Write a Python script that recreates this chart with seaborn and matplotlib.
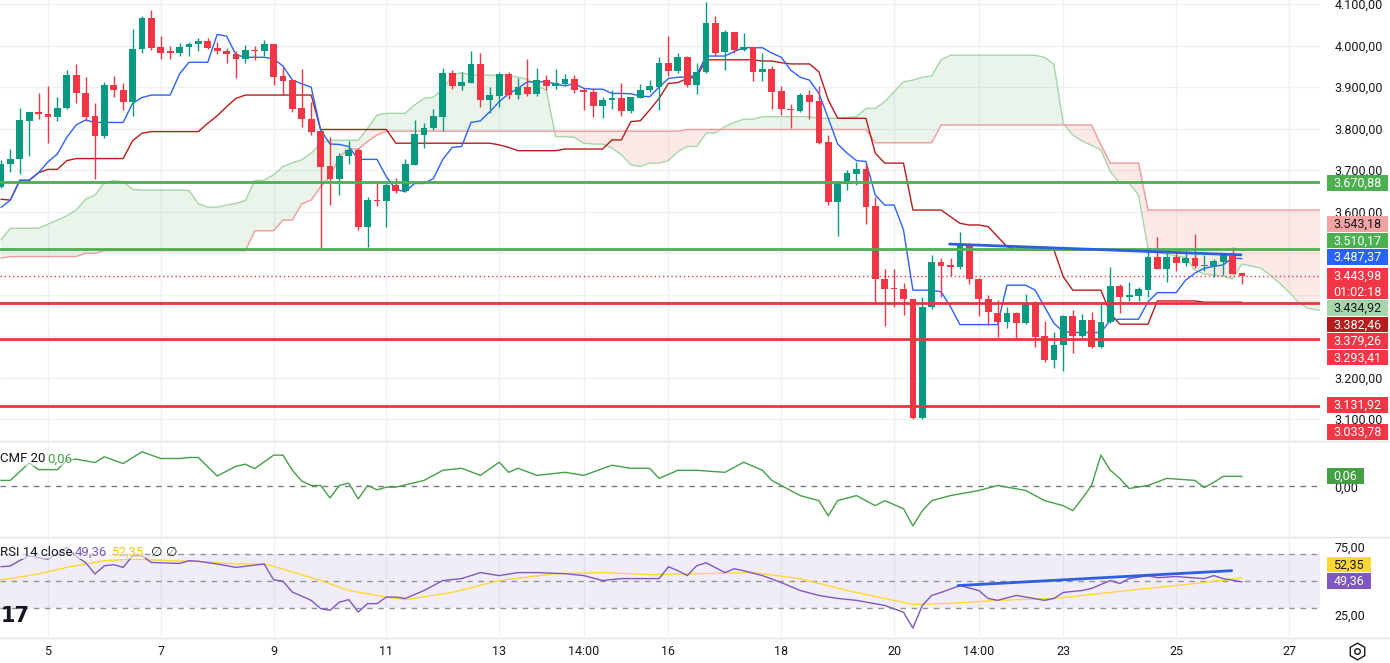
import numpy as np
import pandas as pd
import matplotlib
matplotlib.use("Agg")
import matplotlib.pyplot as plt
from matplotlib.patches import Rectangle
from matplotlib.lines import Line2D
import seaborn as sns

# --- 4h candles, bar 0 = day 4 04:00 ---
opens = [3659, 3714, 3726, 3819, 3839, 3835, 3829, 3849, 3929, 3885,
         3830, 3783, 3905, 3893, 3865, 3991, 4066, 3996, 3986, 3983,
         3996, 4003, 4011, 3994, 3988, 3980, 3968, 3990, 3988, 4004,
         3927, 3917, 3849, 3823, 3794, 3710, 3679, 3733, 3749, 3564,
         3628, 3626, 3664, 3651, 3713, 3785, 3801, 3829, 3935, 3904,
         3911, 3956, 3868, 3879, 3932, 3881, 3900, 3884, 3917, 3904,
         3908, 3919, 3893, 3888, 3855, 3868, 3874, 3843, 3875, 3892,
         3901, 3958, 3939, 3972, 3905, 3937, 4055, 3984, 4032, 3990,
         3996, 3937, 3944, 3891, 3847, 3843, 3881, 3867, 3767, 3624,
         3666, 3692, 3704, 3614, 3437, 3415, 3413, 3389, 3102, 3370,
         3478, 3471, 3466, 3521, 3439, 3389, 3357, 3335, 3355, 3331,
         3378, 3300, 3243, 3280, 3349, 3301, 3339, 3275, 3335, 3421,
         3395, 3398, 3411, 3490, 3463, 3490, 3476, 3488, 3469, 3469,
         3480, 3493, 3453]
highs = [3725, 3750, 3851, 3841, 3885, 3903, 3877, 3941, 3956, 3924,
         3861, 3913, 3927, 3911, 4039, 4072, 4086, 4023, 3998, 4007,
         4010, 4019, 4019, 4010, 3994, 3986, 4002, 3999, 4014, 4005,
         3949, 3918, 3943, 3865, 3795, 3781, 3741, 3771, 3753, 3635,
         3670, 3670, 3680, 3726, 3821, 3813, 3847, 3945, 3941, 3937,
         3986, 3983, 3900, 3937, 3937, 3921, 3967, 3945, 3929, 3943,
         3932, 3929, 3897, 3897, 3876, 3892, 3909, 3877, 3908, 3917,
         3972, 4023, 3982, 3974, 3959, 4106, 4072, 4038, 4033, 4030,
         3997, 3982, 3951, 3903, 3860, 3885, 3892, 3903, 3785, 3671,
         3700, 3719, 3716, 3636, 3463, 3463, 3429, 3390, 3394, 3496,
         3488, 3488, 3552, 3525, 3440, 3399, 3387, 3371, 3359, 3402,
         3386, 3337, 3309, 3350, 3363, 3354, 3359, 3381, 3466, 3427,
         3431, 3418, 3508, 3538, 3501, 3500, 3508, 3546, 3496, 3487,
         3498, 3514, 3453]
lows = [3656, 3696, 3691, 3733, 3823, 3766, 3819, 3848, 3861, 3819,
        3678, 3777, 3876, 3845, 3831, 3982, 3990, 3968, 3968, 3974,
        3976, 3986, 3991, 3980, 3958, 3923, 3958, 3966, 3975, 3905,
        3881, 3841, 3805, 3785, 3512, 3616, 3640, 3715, 3556, 3516,
        3614, 3562, 3646, 3648, 3712, 3753, 3798, 3795, 3895, 3892,
        3910, 3853, 3837, 3853, 3871, 3871, 3879, 3879, 3893, 3895,
        3905, 3887, 3845, 3827, 3825, 3847, 3831, 3837, 3873, 3889,
        3845, 3927, 3935, 3900, 3884, 3935, 3975, 3941, 3983, 3988,
        3916, 3916, 3847, 3833, 3802, 3841, 3823, 3764, 3616, 3542,
        3652, 3664, 3570, 3381, 3325, 3371, 3351, 3100, 3100, 3365,
        3394, 3445, 3461, 3426, 3349, 3327, 3297, 3319, 3295, 3330,
        3275, 3239, 3223, 3217, 3260, 3295, 3271, 3271, 3331, 3357,
        3386, 3386, 3395, 3461, 3431, 3458, 3470, 3464, 3458, 3442,
        3447, 3450, 3426]
closes = [3716, 3726, 3821, 3840, 3835, 3829, 3849, 3929, 3885, 3829,
          3783, 3905, 3892, 3865, 3991, 4066, 3994, 3983, 3983, 3996,
          4004, 4011, 3994, 3986, 3979, 3969, 3990, 3988, 4004, 3925,
          3916, 3847, 3823, 3793, 3708, 3679, 3734, 3749, 3564, 3628,
          3626, 3664, 3651, 3715, 3787, 3801, 3831, 3935, 3903, 3913,
          3956, 3868, 3881, 3932, 3881, 3900, 3884, 3917, 3904, 3909,
          3919, 3892, 3888, 3855, 3869, 3874, 3843, 3876, 3893, 3903,
          3958, 3940, 3972, 3905, 3937, 4055, 3982, 4032, 3990, 3996,
          3937, 3944, 3889, 3847, 3844, 3881, 3865, 3766, 3624, 3670,
          3694, 3704, 3612, 3437, 3414, 3413, 3389, 3102, 3371, 3478,
          3470, 3466, 3521, 3439, 3389, 3358, 3335, 3355, 3331, 3378,
          3299, 3243, 3280, 3349, 3301, 3339, 3275, 3335, 3421, 3395,
          3399, 3413, 3490, 3463, 3490, 3476, 3488, 3468, 3471, 3481,
          3496, 3451, 3444]

# --- Ichimoku ---
tenkan = [3610, 3628, 3676, 3676, 3694, 3720, 3739, 3779, 3809, 3821,
          3815, 3815, 3815, 3815, 3861, 3875, 3881, 3881, 3881, 3932,
          3960, 3960, 3960, 4027, 4023, 3978, 3972, 3972, 3972, 3968,
          3951, 3917, 3908, 3900, 3797, 3763, 3762, 3757, 3726, 3726,
          3726, 3684, 3654, 3648, 3668, 3668, 3680, 3726, 3755, 3757,
          3815, 3819, 3841, 3865, 3884, 3897, 3913, 3913, 3913, 3908,
          3903, 3909, 3897, 3895, 3895, 3885, 3885, 3884, 3879, 3877,
          3900, 3921, 3924, 3924, 3929, 3975, 3975, 3975, 3986, 3995,
          3995, 3995, 3982, 3972, 3941, 3924, 3917, 3885, 3825, 3763,
          3741, 3723, 3721, 3640, 3616, 3616, 3556, 3411, 3411, 3411,
          3407, 3371, 3328, 3328, 3328, 3328, 3328, 3423, 3423, 3423,
          3411, 3371, 3331, 3311, 3309, 3309, 3309, 3309, 3339, 3341,
          3341, 3341, 3383, 3405, 3405, 3405, 3435, 3452, 3464, 3468,
          3472, 3488, 3487]
kijun = [3630, 3628, 3675, 3675, 3694, 3702, 3702, 3723, 3728, 3728,
         3728, 3728, 3728, 3728, 3771, 3789, 3793, 3793, 3793, 3793,
         3793, 3793, 3813, 3831, 3853, 3873, 3881, 3881, 3881, 3881,
         3881, 3881, 3881, 3881, 3798, 3798, 3798, 3798, 3798, 3798,
         3798, 3798, 3765, 3765, 3765, 3765, 3765, 3765, 3765, 3765,
         3765, 3765, 3765, 3761, 3755, 3747, 3747, 3747, 3747, 3747,
         3751, 3751, 3751, 3751, 3751, 3773, 3773, 3817, 3819, 3845,
         3873, 3909, 3911, 3921, 3924, 3966, 3966, 3966, 3966, 3966,
         3966, 3963, 3963, 3959, 3956, 3956, 3956, 3937, 3869, 3825,
         3825, 3825, 3825, 3741, 3717, 3717, 3717, 3604, 3604, 3604,
         3604, 3588, 3572, 3568, 3568, 3564, 3540, 3516, 3508, 3508,
         3508, 3508, 3508, 3443, 3411, 3411, 3411, 3411, 3355, 3329,
         3329, 3329, 3329, 3385, 3385, 3385, 3385, 3385, 3382, 3382,
         3382, 3382, 3382]
span_a = [3532, 3560, 3560, 3560, 3560, 3570, 3580, 3590, 3604, 3630,
          3640, 3670, 3675, 3672, 3654, 3652, 3652, 3652, 3652, 3652,
          3651, 3619, 3611, 3611, 3616, 3620, 3627, 3675, 3676, 3689,
          3709, 3718, 3725, 3741, 3765, 3772, 3772, 3772, 3772, 3801,
          3833, 3837, 3837, 3837, 3857, 3873, 3876, 3895, 3929, 3935,
          3929, 3929, 3929, 3929, 3929, 3924, 3919, 3903, 3893, 3781,
          3781, 3779, 3765, 3763, 3763, 3753, 3737, 3713, 3709, 3717,
          3717, 3723, 3745, 3757, 3757, 3789, 3790, 3805, 3815, 3823,
          3823, 3829, 3829, 3829, 3829, 3829, 3829, 3825, 3825, 3825,
          3827, 3829, 3849, 3849, 3865, 3889, 3913, 3917, 3924, 3927,
          3966, 3977, 3977, 3977, 3977, 3977, 3977, 3977, 3977, 3977,
          3977, 3972, 3955, 3812, 3785, 3770, 3760, 3749, 3696, 3669,
          3669, 3640, 3512, 3502, 3498, 3493, 3490, 3459, 3450, 3447,
          3445, 3438, 3474, 3469, 3464, 3447, 3428, 3406, 3382, 3367,
          3363, 3363]
span_b = [3488, 3492, 3492, 3492, 3492, 3492, 3492, 3492, 3492, 3500,
          3500, 3506, 3506, 3506, 3506, 3506, 3506, 3506, 3506, 3506,
          3506, 3506, 3506, 3506, 3506, 3506, 3506, 3554, 3554, 3554,
          3580, 3580, 3619, 3628, 3660, 3684, 3733, 3751, 3751, 3769,
          3785, 3794, 3794, 3794, 3794, 3794, 3794, 3794, 3794, 3794,
          3794, 3794, 3794, 3794, 3794, 3794, 3794, 3794, 3794, 3794,
          3794, 3794, 3794, 3794, 3794, 3794, 3794, 3794, 3794, 3794,
          3794, 3794, 3794, 3798, 3798, 3798, 3798, 3798, 3798, 3798,
          3798, 3798, 3798, 3798, 3798, 3798, 3798, 3798, 3798, 3798,
          3798, 3798, 3798, 3766, 3766, 3766, 3766, 3766, 3766, 3766,
          3809, 3809, 3809, 3809, 3809, 3809, 3809, 3809, 3809, 3809,
          3809, 3809, 3809, 3809, 3809, 3809, 3809, 3761, 3717, 3717,
          3717, 3717, 3604, 3604, 3604, 3604, 3604, 3604, 3604, 3604,
          3604, 3604, 3604, 3604, 3604, 3604, 3604, 3604, 3604, 3604,
          3604, 3604]

# --- levels and trend lines ---
green_levels = [3670.88, 3510.17]
red_levels = [3379.26, 3293.41, 3131.92]
last_price = 3443.98
trend_idx = [100.9, 131.9]
trend_val = [3522, 3496]

# --- CMF 20 ---
cmf_idx = [0, 1, 3, 4, 6, 7, 8, 10, 11, 13, 15, 17, 19, 20, 21, 23, 25, 26, 27, 29,
           30, 31, 32, 33, 34, 35, 36, 37, 38, 39, 40, 41, 42, 45, 47, 49, 51, 53, 54, 55,
           57, 60, 62, 65, 67, 69, 70, 72, 74, 77, 79, 81, 82, 84, 85, 87, 88, 89, 91, 93,
           94, 96, 97, 98, 99, 101, 104, 106, 109, 111, 113, 114, 115, 116, 117, 118, 119, 120, 122, 124,
           127, 128, 129, 130, 132]
cmf_val = [0.036, 0.036, 0.14, 0.10, 0.10, 0.156, 0.162, 0.142, 0.176, 0.136,
           0.206, 0.166, 0.166, 0.172, 0.172, 0.062, 0.12, 0.132, 0.106, 0.186,
           0.186, 0.096, 0.032, 0.006, 0.006, -0.068, 0.006, 0.02, -0.074, 0.006,
           -0.02, -0.004, -0.004, 0.036, 0.096, 0.108, 0.066, 0.144, 0.084, 0.108,
           0.066, 0.084, 0.066, 0.126, 0.108, 0.108, 0.048, 0.096, 0.096, 0.084,
           0.144, 0.096, 0.036, -0.024, -0.054, -0.084, -0.174, -0.084, -0.054, -0.114,
           -0.084, -0.132, -0.234, -0.144, -0.084, -0.054, -0.024, 0.006, -0.024, -0.084,
           -0.114, -0.144, -0.072, 0.006, 0.186, 0.096, 0.048, -0.012, 0.006, 0.048,
           0.036, -0.006, 0.024, 0.06, 0.06]

# --- RSI 14 + MA ---
rsi_idx = [0, 1, 2, 3, 4, 5, 6, 7, 8, 9, 10, 11, 12, 13, 14, 15, 16, 19, 20, 21,
           23, 25, 28, 29, 30, 31, 32, 33, 34, 35, 36, 37, 38, 39, 40, 41, 42, 43, 45, 47,
           49, 51, 53, 55, 57, 60, 62, 64, 66, 68, 70, 71, 72, 73, 74, 75, 77, 78, 79, 81,
           83, 85, 87, 89, 91, 94, 96, 97, 98, 99, 100, 102, 104, 105, 106, 108, 111, 112, 113, 115,
           116, 118, 119, 120, 122, 123, 125, 128, 129, 130, 132]
rsi_val = [60.5, 61, 65, 68.5, 67, 66, 70, 74.5, 68, 63.6, 55.2, 61.2, 62, 60, 68.5, 68.5, 63.6, 62.9, 64.9, 64.5,
           62.5, 60, 62.5, 50.9, 49.9, 41.9, 39, 35.9, 29.9, 28.6, 34.6, 36.4, 27.4, 33.5, 33.5, 38.3, 38.3, 37.3, 43.1, 50.4,
           51.8, 56.2, 54, 56.2, 56.2, 55.4, 54, 50.4, 51.8, 51.8, 51.8, 60.5, 57.6, 54, 61.2, 63.4, 56.2, 59, 57.6, 54,
           48.9, 43.1, 39.5, 37.3, 35.9, 32.2, 27.2, 15.6, 32.2, 39.5, 41.7, 46.7, 43.1, 37.3, 35.9, 39.5, 35.9, 37.3, 41.7, 43.1,
           44.6, 50.4, 48.2, 51.8, 54, 52.5, 53.3, 51.8, 54, 51.8, 49.36]
rsi_ma_idx = [0, 4, 7, 11, 14, 18, 21, 25, 28, 30, 34, 37, 41, 43, 48, 53,
              59, 64, 69, 74, 80, 85, 90, 94, 97, 101, 106, 112, 117, 122, 128, 132]
rsi_ma_val = [50.9, 55.2, 60, 64.9, 66.1, 64.9, 64.3, 62.5, 62.5, 58.8, 50.4, 43.1, 38.3, 36.4, 41.7, 50.4,
              55.4, 56.2, 54.7, 55.4, 56.2, 51.8, 43.1, 37.3, 33, 33.7, 35.9, 37.3, 41, 44.6, 48.9, 52.35]
rsi_trend_idx = [101.8, 130.9]
rsi_trend_val = [46.7, 57.6]

# --- axis ticks ---
day_ticks = [5, 17, 29, 41, 53, 62, 71, 83, 95, 104, 113, 125, 137]
day_labels = ["5", "7", "9", "11", "13", "14:00", "16", "18", "20", "14:00", "23", "25", "27"]
price_ticks = [3100, 3200, 3300, 3400, 3500, 3600, 3700, 3800, 3900, 4000, 4100]
hidden_ticks = [3300, 3400, 3500]  # covered by the price tags on the chart

sns.set_theme(style="white")
plt.rcParams['font.family'] = ['Roboto', 'DejaVu Sans']

TXT = "#131722"
GRID = "#eef0f4"
UP, DOWN = "#089981", "#f23645"


def fmt(v):
    return f"{v:,.2f}".replace(",", "X").replace(".", ",").replace("X", ".")


W, H = 1390, 663
fig = plt.figure(figsize=(W / 100, H / 100), dpi=100)
fig.patch.set_facecolor("white")


def pane(top, bottom, share=None):
    return fig.add_axes([0, 1 - bottom / H, 1320 / W, (bottom - top) / H], sharex=share)


ax = pane(0, 440)
ax_cmf = pane(442, 536, ax)
ax_rsi = pane(538, 637, ax)

# ---------------- main pane ----------------
idx = np.arange(len(closes))
o = np.array(opens, float)
c = np.array(closes, float)
cols = np.where(c >= o, UP, DOWN)

fidx = np.arange(len(span_a))
a = np.array(span_a, float)
b = np.array(span_b, float)
ax.fill_between(fidx, a, b, where=a >= b, interpolate=True, color="#43a047", alpha=0.11, lw=0, zorder=1)
ax.fill_between(fidx, a, b, where=a < b, interpolate=True, color="#f44336", alpha=0.11, lw=0, zorder=1)
sns.lineplot(x=fidx, y=a, ax=ax, color="#a5d6a7", lw=1, zorder=2)
sns.lineplot(x=fidx, y=b, ax=ax, color="#ef9a9a", lw=1, zorder=2)

sns.lineplot(x=idx, y=kijun, ax=ax, color="#b71c1c", lw=1, zorder=3)
sns.lineplot(x=idx, y=tenkan, ax=ax, color="#2962ff", lw=1, zorder=3)

ax.axhline(last_price, color=DOWN, lw=1, ls=(0, (1, 2)), zorder=2)

ax.vlines(idx, lows, highs, colors=cols, lw=1, zorder=4)
ax.bar(idx, np.maximum(np.abs(c - o), 2.0), bottom=np.minimum(o, c), width=0.72,
       color=cols, lw=0, zorder=5)

for lv in green_levels:
    ax.axhline(lv, color="#4caf50", lw=2, zorder=6)
for lv in red_levels:
    ax.axhline(lv, color="#e0393e", lw=2, zorder=6)

sns.lineplot(x=trend_idx, y=trend_val, ax=ax, color="#2f5fe0", lw=2, zorder=7)

ax.set_xlim(-0.1, 140.3)
ax.set_ylim(3050, 4110)
ax.yaxis.tick_right()
ax.set_yticks(price_ticks)
ax.set_yticklabels(["" if v in hidden_ticks else fmt(v) for v in price_ticks])
ax.grid(True, color=GRID, lw=1)

# ---------------- CMF pane ----------------
ax_cmf.axhline(0, color="#787b86", lw=1, ls=(0, (4, 4)))
sns.lineplot(x=cmf_idx, y=cmf_val, ax=ax_cmf, color="#43a047", lw=1)
ax_cmf.set_ylim(-0.294, 0.264)
ax_cmf.yaxis.tick_right()
ax_cmf.set_yticks([0])
ax_cmf.set_yticklabels(["0,00"])
ax_cmf.grid(True, axis="x", color=GRID, lw=1)

# ---------------- RSI pane ----------------
ax_rsi.axhspan(30, 70, color="#7e57c2", alpha=0.1, lw=0)
for lv in (70, 50, 30):
    ax_rsi.axhline(lv, color="#787b86", lw=1, ls=(0, (4, 4)), alpha=0.8)
sns.lineplot(x=rsi_ma_idx, y=rsi_ma_val, ax=ax_rsi, color="#fdd835", lw=1)
sns.lineplot(x=rsi_idx, y=rsi_val, ax=ax_rsi, color="#7e57c2", lw=1)
sns.lineplot(x=rsi_trend_idx, y=rsi_trend_val, ax=ax_rsi, color="#2f5fe0", lw=2)
ax_rsi.set_ylim(9.1, 81.5)
ax_rsi.yaxis.tick_right()
ax_rsi.set_yticks([25, 75])
ax_rsi.set_yticklabels(["25,00", "75,00"])
ax_rsi.grid(True, axis="x", color=GRID, lw=1)

ax_rsi.set_xticks(day_ticks)
ax_rsi.set_xticklabels(day_labels)

for a_ in (ax, ax_cmf, ax_rsi):
    a_.set_xlabel("")
    a_.set_ylabel("")
    for s in a_.spines.values():
        s.set_visible(False)
    a_.tick_params(axis="y", length=0, pad=10.5, labelsize=9, labelcolor=TXT)
    a_.tick_params(axis="x", length=0, labelbottom=False)
ax_rsi.tick_params(axis="x", labelbottom=True, pad=6, labelsize=9, labelcolor=TXT)

# pane separators
for yp in (441, 537, 638):
    fig.add_artist(Line2D([0, 1], [1 - yp / H] * 2, color="#e0e3eb", lw=1,
                          transform=fig.transFigure))

renderer = fig.canvas.get_renderer()


def tag(text, ypix, fc, tc):
    t = fig.text(1333.5 / W, 1 - (ypix + 0.5) / H, text, color=tc, fontsize=9,
                 ha="left", va="center", zorder=11)
    w = t.get_window_extent(renderer).width
    fig.add_artist(Rectangle((1327 / W, 1 - (ypix + 7.8) / H), (w + 13) / W, 15.6 / H,
                             transform=fig.transFigure, fc=fc, ec="none", zorder=10))


tag(fmt(3670.88), 183, "#4caf50", "white")
tag(fmt(3543.18), 224, "#f4a3a3", TXT)
tag(fmt(3510.17), 240.5, "#4caf50", "white")
tag(fmt(3487.37), 257, "#2962ff", "white")
tag(fmt(last_price), 276, DOWN, "white")
tag("01:02:18", 291.5, DOWN, "white")
tag(fmt(3434.92), 308, "#a5d6a7", TXT)
tag(fmt(3382.46), 324.5, "#b71c1c", "white")
tag(fmt(red_levels[0]), 341, DOWN, "white")
tag(fmt(red_levels[1]), 357.5, DOWN, "white")
tag(fmt(red_levels[2]), 405, DOWN, "white")
tag(fmt(3033.78), 432, DOWN, "white")
tag("0,06", 476, "#43a047", "white")
tag("52,35", 564.5, "#fdd835", TXT)
tag("49,36", 581, "#7e57c2", "white")


# pane legends
def legend(x, y, s, color):
    fig.text(x / W, 1 - y / H, s, color=color, fontsize=9.5, ha="left", va="center",
             zorder=12, bbox=dict(fc="white", ec="none", alpha=0.55, pad=0.5))


legend(0, 459, "CMF 20", TXT)
legend(47, 459, "0,06", "#43a047")
legend(0, 552, "RSI 14 close", TXT)
legend(75, 552, "49,36", "#7e57c2")
legend(112, 552, "52,35", "#f5c518")
legend(151, 552, "\u2205", TXT)
legend(166, 552, "\u2205", TXT)

# TradingView logo and settings icon
fig.text(0.5 / W, 1 - 616 / H, "17", fontsize=15, fontweight="heavy", color=TXT,
         va="center", ha="left", family="DejaVu Sans", zorder=12)
fig.add_artist(Line2D([1357 / W], [1 - 651 / H], marker="h", ms=12, mfc="white",
                      mec=TXT, mew=1, transform=fig.transFigure))
fig.add_artist(Line2D([1357 / W], [1 - 651 / H], marker="o", ms=4, mfc="white",
                      mec=TXT, mew=1, transform=fig.transFigure))

fig.savefig("out.png", dpi=100, facecolor="white")
